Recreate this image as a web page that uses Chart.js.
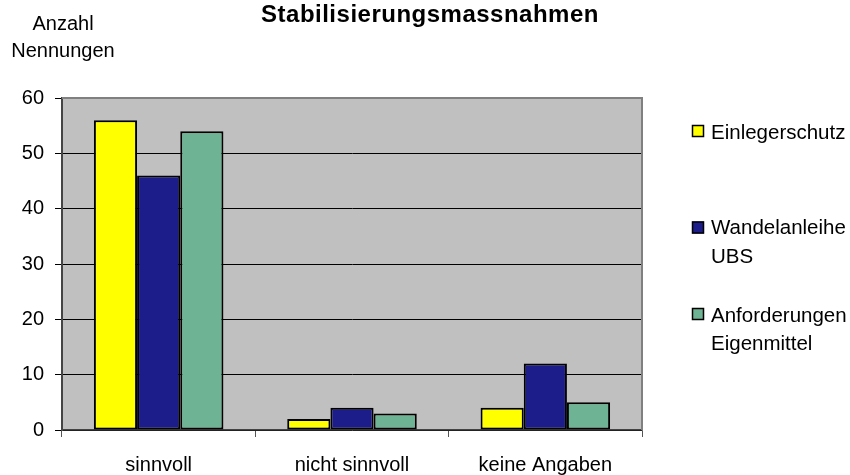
<!DOCTYPE html>
<html>
<head>
<meta charset="utf-8">
<script src="https://cdn.jsdelivr.net/npm/chart.js@4/dist/chart.umd.min.js"></script>
<style>
  html, body { margin: 0; padding: 0; background: #ffffff; }
  #wrap { width: 850px; height: 475px; }
</style>
</head>
<body>
<div id="wrap"><canvas id="chart" width="850" height="475"></canvas></div>
<script>
const categories = ['sinnvoll', 'nicht sinnvoll', 'keine Angaben'];
const seriesNames = [['Einlegerschutz'], ['Wandelanleihe', 'UBS'], ['Anforderungen', 'Eigenmittel']];
const einlegerschutz = [56, 2, 4];
const wandelanleihe = [46, 4, 12];
const anforderungen = [54, 3, 5];
const colors = ['#ffff00', '#1c1c8a', '#6db394'];
const yTicks = [0, 10, 20, 30, 40, 50, 60];

const FONT = 'Liberation Sans, Arial, sans-serif';

const decor = {
  id: 'decor',
  beforeDraw(chart) {
    const { ctx, chartArea: a } = chart;
    ctx.save();
    ctx.fillStyle = '#c0c0c0';
    ctx.fillRect(a.left, a.top, a.right - a.left, a.bottom - a.top);
    ctx.restore();
  },
  afterDraw(chart) {
    const { ctx, chartArea: a } = chart;
    ctx.save();
    ctx.strokeStyle = '#808080';
    ctx.lineWidth = 2;
    ctx.beginPath();
    ctx.moveTo(a.left, a.top);
    ctx.lineTo(a.right, a.top);
    ctx.lineTo(a.right, a.bottom);
    ctx.stroke();

    ctx.fillStyle = '#000';
    ctx.textAlign = 'center';
    ctx.textBaseline = 'alphabetic';
    ctx.font = 'bold 24px ' + FONT;
    ctx.letterSpacing = '0.5px';
    ctx.fillText('Stabilisierungsmassnahmen', 430, 22);
    ctx.letterSpacing = '0px';

    ctx.font = '20px ' + FONT;
    ctx.fillText('Anzahl', 63, 30);
    ctx.fillText('Nennungen', 63, 57);

    // legend
    const boxY = [131, 227.5, 314];
    const baselines = [[139], [234, 263], [322, 350]];
    ctx.textAlign = 'left';
    ctx.font = '20.5px ' + FONT;
    seriesNames.forEach((lines, i) => {
      ctx.fillStyle = colors[i];
      ctx.fillRect(692, boxY[i] - 6, 12, 12);
      ctx.strokeStyle = '#000';
      ctx.lineWidth = 1.5;
      ctx.strokeRect(692.5, boxY[i] - 5.5, 11, 11);
      ctx.fillStyle = '#000';
      lines.forEach((t, j) => ctx.fillText(t, 711, baselines[i][j]));
    });
    ctx.restore();
  }
};

const ds = [einlegerschutz, wandelanleihe, anforderungen].map((d, i) => ({
  label: seriesNames[i].join(' '),
  data: d,
  backgroundColor: colors[i],
  borderColor: '#000',
  borderWidth: 2,
  borderSkipped: false,
  categoryPercentage: 0.67,
  barPercentage: 1.0
}));

new Chart(document.getElementById('chart'), {
  type: 'bar',
  data: { labels: categories, datasets: ds },
  options: {
    responsive: false,
    animation: false,
    layout: { padding: { left: 0, top: 98, right: 208, bottom: 0 } },
    plugins: { legend: { display: false }, title: { display: false }, tooltip: { enabled: false } },
    scales: {
      x: {
        offset: true,
        grid: { offset: true, drawOnChartArea: false, drawTicks: true, tickLength: 7, color: '#555', lineWidth: 1 },
        border: { color: '#444', width: 1.5 },
        ticks: { color: '#000', font: { family: FONT, size: 20 }, padding: 16 },
        afterFit(s) { s.height = 45; }
      },
      y: {
        min: 0,
        max: 60,
        afterBuildTicks(s) { s.ticks = yTicks.map(v => ({ value: v })); },
        grid: { color: '#000', lineWidth: 1, tickLength: 7, drawTicks: true },
        border: { color: '#444', width: 2 },
        ticks: { color: '#000', font: { family: FONT, size: 20 }, padding: 11 },
        afterFit(s) { s.width = 62; }
      }
    }
  },
  plugins: [decor]
});
</script>
</body>
</html>
